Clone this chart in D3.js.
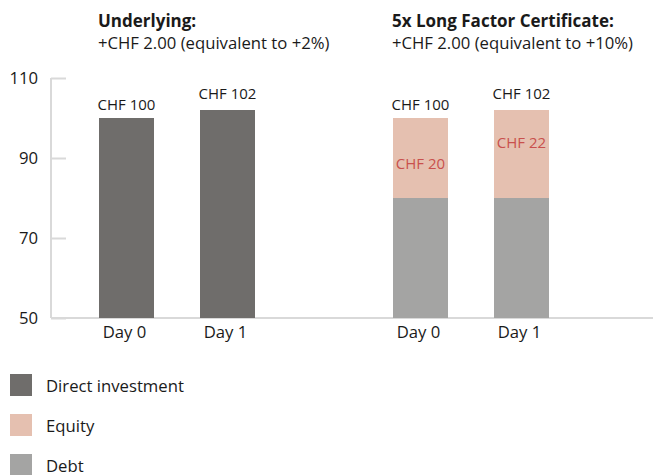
<!DOCTYPE html>
<html>
<head>
<meta charset="utf-8">
<script src="https://cdn.jsdelivr.net/npm/d3@7"></script>
<style>
  html, body { margin: 0; padding: 0; background: #fff; }
  svg { display: block; font-family: "Open Sans", "Noto Sans", sans-serif; }
</style>
</head>
<body>
<svg id="chart" width="656" height="475"></svg>
<script>
// ---- data ----
const groups = ["Underlying", "5x Long Factor Certificate"];
const groupTitles = ["Underlying:", "5x Long Factor Certificate:"];
const groupSubtitles = ["+CHF 2.00 (equivalent to +2%)", "+CHF 2.00 (equivalent to +10%)"];
const days = ["Day 0", "Day 1"];
const directInvestment = [100, 102];
const debt = [80, 80];
const equity = [20, 22];
const totalLabels = ["CHF 100", "CHF 102"];
const equityLabels = ["CHF 20", "CHF 22"];
const yTicks = [50, 70, 90, 110];
const legendItems = ["Direct investment", "Equity", "Debt"];

// ---- styles ----
const colors = { direct: "#6f6d6b", equity: "#e5c0b0", debt: "#a4a4a3", equityText: "#c9504d", axis: "#d9d9d9", text: "#1a1a1a" };
const fs = 16.7;

const svg = d3.select("#chart");

const y = d3.scaleLinear().domain([50, 110]).range([318, 78]);
const xGroup = d3.scaleBand().domain(groups).range([30, 618]);
const xDay = d3.scalePoint().domain(days).range([96.5, 197.5]);
const barW = 55;

// axis ticks
const yAxis = d3.axisLeft(y).tickValues(yTicks).tickSize(15).tickFormat(d3.format("d"));
const gy = svg.append("g").attr("transform", "translate(66,0)").call(yAxis);
gy.select(".domain").remove();
gy.selectAll(".tick line").attr("stroke", colors.axis).attr("stroke-width", 2);
gy.selectAll(".tick text").attr("x", -28).attr("font-size", fs).attr("fill", colors.text)
  .attr("font-family", "'Open Sans', sans-serif");

svg.append("line").attr("x1", 51).attr("x2", 51).attr("y1", y(110)).attr("y2", y(50))
  .attr("stroke", colors.axis).attr("stroke-width", 2);
svg.append("line").attr("x1", 51).attr("x2", 653).attr("y1", y(50)).attr("y2", y(50))
  .attr("stroke", colors.axis).attr("stroke-width", 2);

// group titles
groups.forEach((g, gi) => {
  const gx = xGroup(g) + xDay("Day 0") - barW / 2 - 1;
  svg.append("text").attr("x", gx).attr("y", 27).attr("font-size", 17).attr("font-weight", "bold")
    .attr("fill", colors.text).text(groupTitles[gi]);
  svg.append("text").attr("x", gx).attr("y", 49).attr("font-size", fs)
    .attr("fill", colors.text).text(groupSubtitles[gi]);
});

// left group: direct investment
const g0 = svg.append("g").attr("transform", `translate(${xGroup(groups[0])},0)`);
g0.selectAll("rect").data(days).join("rect")
  .attr("x", d => xDay(d) - barW / 2).attr("width", barW)
  .attr("y", (d, i) => y(directInvestment[i]))
  .attr("height", (d, i) => y(50) - y(directInvestment[i]))
  .attr("fill", colors.direct);
const labelOffsets = [8, 11];
g0.selectAll("text.tot").data(days).join("text").attr("class", "tot")
  .attr("x", d => xDay(d)).attr("y", (d, i) => y(directInvestment[i]) - labelOffsets[i])
  .attr("text-anchor", "middle").attr("font-size", 15).attr("fill", colors.text)
  .text((d, i) => totalLabels[i]);

// right group: debt + equity
const g1 = svg.append("g").attr("transform", `translate(${xGroup(groups[1])},0)`);
g1.selectAll("rect.debt").data(days).join("rect").attr("class", "debt")
  .attr("x", d => xDay(d) - barW / 2).attr("width", barW)
  .attr("y", (d, i) => y(debt[i]))
  .attr("height", (d, i) => y(50) - y(debt[i]))
  .attr("fill", colors.debt);
g1.selectAll("rect.eq").data(days).join("rect").attr("class", "eq")
  .attr("x", d => xDay(d) - barW / 2).attr("width", barW)
  .attr("y", (d, i) => y(debt[i] + equity[i]))
  .attr("height", (d, i) => y(debt[i]) - y(debt[i] + equity[i]))
  .attr("fill", colors.equity);
g1.selectAll("text.tot").data(days).join("text").attr("class", "tot")
  .attr("x", d => xDay(d)).attr("y", (d, i) => y(debt[i] + equity[i]) - labelOffsets[i])
  .attr("text-anchor", "middle").attr("font-size", 15).attr("fill", colors.text)
  .text((d, i) => totalLabels[i]);
const eqOffsets = [51, 38];
g1.selectAll("text.eqlab").data(days).join("text").attr("class", "eqlab")
  .attr("x", d => xDay(d)).attr("y", (d, i) => y(debt[i] + equity[i]) + eqOffsets[i])
  .attr("text-anchor", "middle").attr("font-size", 15).attr("fill", colors.equityText)
  .text((d, i) => equityLabels[i]);

// x labels
groups.forEach(g => {
  days.forEach(d => {
    svg.append("text").attr("x", xGroup(g) + xDay(d) - 2).attr("y", 338)
      .attr("text-anchor", "middle").attr("font-size", fs).attr("fill", colors.text).text(d);
  });
});

// legend
const legendColors = [colors.direct, colors.equity, colors.debt];
const lg = svg.append("g");
legendItems.forEach((t, i) => {
  lg.append("rect").attr("x", 10).attr("y", 374 + i * 40).attr("width", 22).attr("height", 22)
    .attr("fill", legendColors[i]);
  lg.append("text").attr("x", 46).attr("y", 392 + i * 40).attr("font-size", fs)
    .attr("fill", colors.text).text(t);
});
</script>
</body>
</html>
